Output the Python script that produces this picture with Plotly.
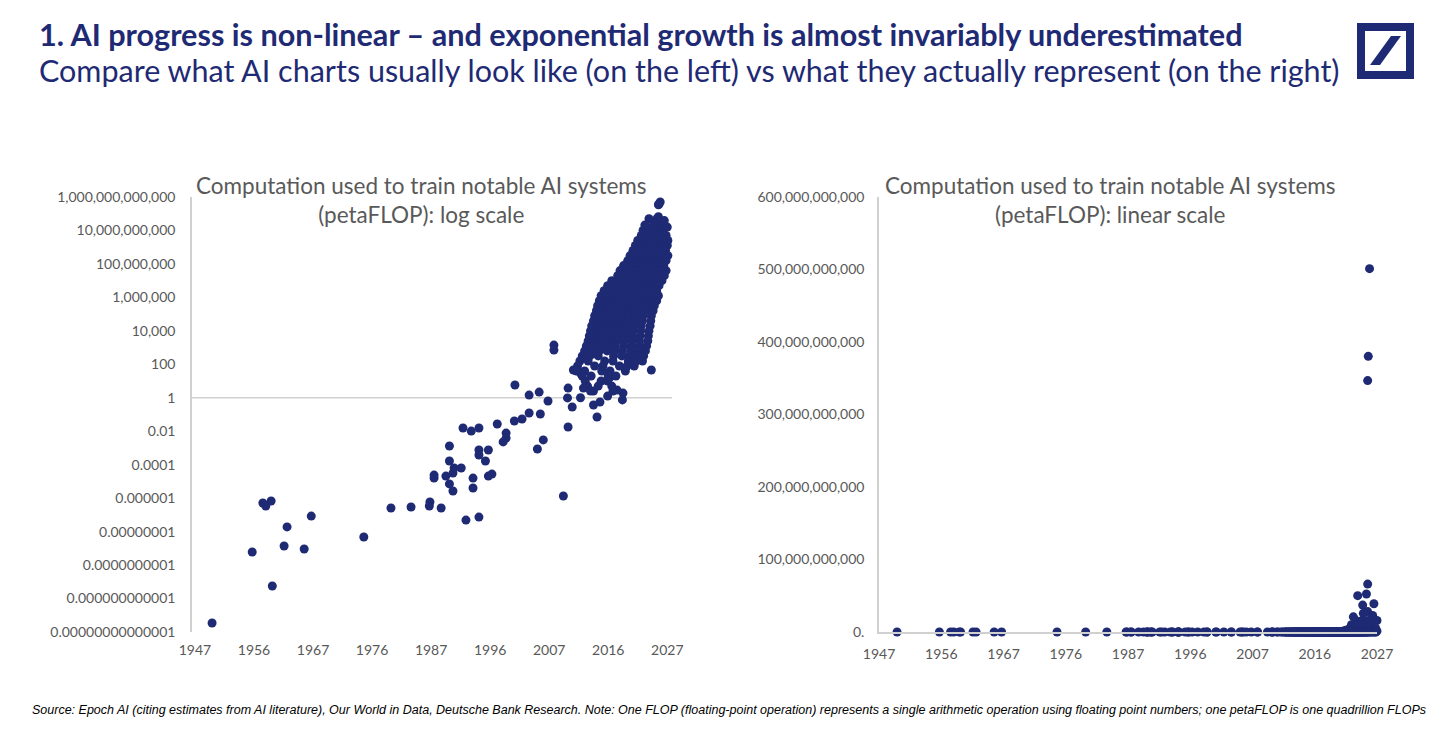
import numpy as np
import plotly.graph_objects as go

# ---------------- data ----------------
# Early / pre-deep-learning systems: year, log10(petaFLOP)
early_years = [1949.9, 1956.7, 1958.5, 1959.0, 1959.9, 1960.1, 1962.1, 1962.6, 1965.5, 1966.7,
               1975.6, 1980.2, 1983.6, 1986.7, 1986.8, 1988.7, 1992.9, 1995.1, 1987.5, 1987.5,
               1990.1, 1990.1, 1990.1, 1990.7, 1989.5, 1990.7, 1990.9, 1992.1, 1992.4, 1993.8,
               1995.1, 1994.1, 1994.1, 1995.1, 1995.1, 1996.7, 1996.2, 1996.7, 1997.3, 1998.2,
               1999.7, 1999.7, 1999.2, 2001.2, 2003.6, 2005.3, 2006.8, 2001.1, 2002.4, 2003.6,
               2005.5, 2005.0, 2006.0, 2007.8, 2007.8, 2010.2, 2009.4, 2015.1, 2010.2, 2010.1,
               2010.9, 2012.3, 2014.5, 2015.6, 2014.5, 2012.8, 2011.1, 2012.3, 2013.6, 2013.4,
               2019.4, 2019.5, 2018.5, 2017.3, 2024.3]
early_exp = [-13.46, -9.22, -6.29, -6.47, -6.17, -11.25, -8.86, -7.72, -9.04, -7.07,
             -8.32, -6.59, -6.53, -6.47, -6.23, -6.59, -7.31, -7.13, -4.62, -4.80,
             -2.88, -3.78, -5.15, -5.57, -4.68, -4.50, -4.20, -4.20, -1.81, -1.99,
             -1.81, -4.80, -5.39, -3.12, -3.42, -3.12, -3.78, -4.68, -4.56, -1.57,
             -2.11, -2.41, -2.64, 0.76, 0.16, 0.34, -0.19, -1.39, -1.27, -0.91,
             -0.97, -3.06, -2.52, 3.15, 2.85, -1.75, -5.87, -1.15, 0.58, -0.01,
             -0.55, 0.0, -0.43, -0.25, 0.40, 0.58, 1.66, 1.48, 3.27, 2.44,
             -0.13, 0.28, 0.46, 1.24, 1.66]

# Largest frontier systems (visible above the baseline on the linear chart)
frontier_years = [2025.8, 2025.6, 2025.5, 2025.5, 2023.9, 2025.3, 2024.7, 2026.5, 2025.5, 2023.2, 2026.3, 2024.8]
frontier_exp = [11.70, 11.58, 11.54, 10.82, 10.70, 10.72, 10.57, 10.59, 10.45, 10.32, 10.36, 10.41]

# Deep-learning era cluster, read band by band: log10(petaFLOP) of band, years of dots in band
cluster_band_exp = [10.2, 10.0, 9.7, 9.4, 9.1, 8.8, 8.5, 8.2, 7.9, 7.6, 7.3, 7.0, 6.7, 6.4, 6.1,
                    5.8, 5.5, 5.2, 4.9, 4.6, 4.3, 4.0, 3.7, 3.4, 3.1, 2.8, 2.5, 2.2, 1.9, 1.6,
                    1.3, 1.0, 0.7, 0.4, 0.1]
cluster_band_years = [
    [2023.6, 2024.6, 2025.6, 2026.6, 2027.0],
    [2022.9, 2024.0, 2025.1, 2026.2],
    [2022.6, 2023.5, 2024.5, 2025.6, 2026.8],
    [2022.0, 2023.1, 2024.2, 2025.3, 2026.4, 2027.1],
    [2021.6, 2022.7, 2023.8, 2024.9, 2026.0, 2027.0],
    [2021.2, 2022.3, 2023.4, 2024.5, 2025.6, 2026.7],
    [2020.7, 2021.8, 2022.9, 2024.0, 2025.1, 2026.2, 2027.1],
    [2020.3, 2021.4, 2022.5, 2023.6, 2024.7, 2025.8, 2026.8],
    [2019.6, 2020.9, 2022.0, 2023.1, 2024.2, 2025.3, 2026.4],
    [2019.0, 2020.4, 2021.5, 2022.6, 2023.7, 2024.8, 2025.9, 2026.8],
    [2018.6, 2019.8, 2020.9, 2022.1, 2023.2, 2024.3, 2025.4, 2026.5],
    [2017.6, 2018.9, 2020.2, 2021.4, 2022.6, 2023.8, 2025.0, 2026.1],
    [2016.9, 2018.1, 2019.5, 2020.8, 2022.0, 2023.2, 2024.4, 2025.6],
    [2016.3, 2017.5, 2018.8, 2020.0, 2021.3, 2022.6, 2023.9, 2025.2],
    [2015.8, 2017.0, 2018.2, 2019.5, 2020.8, 2022.0, 2023.3, 2024.6, 2025.5],
    [2015.5, 2016.6, 2017.8, 2019.0, 2020.2, 2021.5, 2022.7, 2024.0, 2025.2],
    [2015.2, 2016.3, 2017.5, 2018.7, 2019.9, 2021.1, 2022.3, 2023.6, 2024.8],
    [2015.0, 2016.0, 2017.2, 2018.4, 2019.6, 2020.8, 2022.0, 2023.2, 2024.6],
    [2014.7, 2015.8, 2017.0, 2018.1, 2019.3, 2020.5, 2021.7, 2022.9, 2024.3],
    [2014.5, 2015.6, 2016.8, 2018.0, 2019.2, 2020.3, 2021.5, 2022.8, 2024.2],
    [2014.2, 2015.4, 2016.5, 2017.7, 2018.9, 2020.1, 2021.3, 2022.6, 2024.1],
    [2014.0, 2015.2, 2016.4, 2017.5, 2018.8, 2020.0, 2021.2, 2022.5, 2023.9],
    [2013.8, 2014.9, 2016.1, 2017.4, 2018.6, 2019.9, 2021.1, 2022.4, 2023.8],
    [2013.6, 2014.7, 2015.9, 2017.2, 2018.4, 2019.7, 2021.0, 2022.3, 2023.7],
    [2013.3, 2014.4, 2015.7, 2017.0, 2018.2, 2019.6, 2020.9, 2022.2, 2023.5],
    [2013.0, 2014.2, 2015.5, 2016.8, 2018.1, 2019.4, 2020.8, 2022.1, 2023.3],
    [2012.6, 2013.9, 2015.3, 2017.9, 2019.3, 2020.6, 2021.9, 2023.0],
    [2012.2, 2013.6, 2016.4, 2017.8, 2020.4, 2021.7, 2022.8],
    [2011.8, 2014.7, 2016.1, 2018.9, 2020.2, 2021.4],
    [2011.6, 2013.0, 2015.9, 2017.3, 2019.9],
    [2012.6, 2014.1, 2017.0, 2018.3],
    [2013.1, 2015.8, 2016.9],
    [2013.5, 2015.3, 2017.6],
    [2014.0, 2017.8],
    [2016.9],
]

# Axis tick labels
x_tick_years = [1947, 1957, 1967, 1977, 1987, 1997, 2007, 2017, 2027]
x_tick_labels = ["1947", "1956", "1967", "1976", "1987", "1996", "2007", "2016", "2027"]
log_tick_exp = [-14, -12, -10, -8, -6, -4, -2, 0, 2, 4, 6, 8, 10, 12]
log_tick_labels = ["0.00000000000001", "0.000000000001", "0.0000000001", "0.00000001",
                   "0.000001", "0.0001", "0.01", "1", "100", "10,000", "1,000,000",
                   "100,000,000", "10,000,000,000", "1,000,000,000,000"]
lin_tick_vals = [0, 100e9, 200e9, 300e9, 400e9, 500e9, 600e9]
lin_tick_labels = ["0.", "100,000,000,000", "200,000,000,000", "300,000,000,000",
                   "400,000,000,000", "500,000,000,000", "600,000,000,000"]

# ---------------- assemble ----------------
cl_years, cl_exp = [], []
for e, ys in zip(cluster_band_exp, cluster_band_years):
    for y in ys:
        cl_years.append(y)
        cl_exp.append(e)

years = np.array(early_years + cl_years + frontier_years)
petaflop = np.power(10.0, np.array(early_exp + cl_exp + frontier_exp))

NAVY = "#1f2a74"
GRAY = "#595959"
AXC = "#d0d0d0"
FONT = "Lato"

fig = go.Figure()
marker = dict(color=NAVY, size=9, line=dict(width=0))
fig.add_trace(go.Scatter(x=years, y=petaflop, mode="markers", marker=marker,
                         xaxis="x", yaxis="y", cliponaxis=False, showlegend=False))
fig.add_trace(go.Scatter(x=years, y=petaflop, mode="markers", marker=marker,
                         xaxis="x2", yaxis="y2", cliponaxis=False, showlegend=False))

# The page body has an 8px margin; figure is sized to fit the window exactly.
OFF = 8
W, H = 1440 - OFF, 731 - OFF
def px(x):
    return (x - OFF) / W
def py(y):
    return 1 - (y - OFF) / H

tickfont = dict(family=FONT, size=14, color=GRAY)

fig.update_layout(
    width=W, height=H,
    margin=dict(l=0, r=0, t=0, b=0),
    paper_bgcolor="white", plot_bgcolor="white",
    xaxis=dict(domain=[px(192), px(672)], range=[1946.5, 2027.8], showgrid=False, zeroline=False,
               showline=False, tickvals=x_tick_years, ticktext=x_tick_labels, tickfont=tickfont,
               ticks="", ticklabelstandoff=8, automargin=False, anchor="y"),
    yaxis=dict(domain=[py(632), py(197)], type="log", range=[-14, 12], showgrid=False,
               zeroline=False, showline=True, linecolor=AXC, linewidth=1.5,
               tickvals=[10.0 ** e for e in log_tick_exp], ticktext=log_tick_labels,
               tickfont=tickfont, ticks="", ticklabelstandoff=12, automargin=False, anchor="x"),
    xaxis2=dict(domain=[px(879), px(1377)], range=[1947, 2027], showgrid=False, zeroline=False,
                showline=True, linecolor=AXC, linewidth=1.5, tickvals=x_tick_years,
                ticktext=x_tick_labels, tickfont=tickfont, ticks="", ticklabelstandoff=8,
                automargin=False, anchor="y2"),
    yaxis2=dict(domain=[py(632), py(197)], range=[0, 600e9], showgrid=False, zeroline=False,
                showline=True, linecolor=AXC, linewidth=1.5, tickvals=lin_tick_vals,
                ticktext=lin_tick_labels, tickfont=tickfont, ticks="", ticklabelstandoff=10,
                automargin=False, anchor="x2"),
)

# horizontal axis crossing line at y = 1 on the log chart
fig.add_shape(type="line", xref="x domain", yref="y", x0=0, x1=1, y0=1, y1=1,
              line=dict(color=AXC, width=1.5), layer="below")

# Deutsche Bank logo
fig.add_shape(type="rect", xref="paper", yref="paper",
              x0=px(1361), x1=px(1410), y0=py(75), y1=py(27),
              line=dict(color=NAVY, width=8), fillcolor="white")
fig.add_shape(type="path", xref="paper", yref="paper",
              path=f"M {px(1370)},{py(65)} L {px(1380)},{py(65)} L {px(1401)},{py(36)} L {px(1391)},{py(36)} Z",
              fillcolor=NAVY, line=dict(width=0))

def note(text, x, y, xanchor, size, color, family=FONT):
    return dict(text=text, x=px(x), y=py(y), xref="paper", yref="paper",
                xanchor=xanchor, yanchor="middle", showarrow=False, align="center",
                font=dict(family=family, size=size, color=color))

ann = [
    note("<b>1. AI progress is non-linear – and exponential growth is almost invariably underestimated</b>",
         37, 35, "left", 30.6, NAVY),
    note("Compare what AI charts usually look like (on the left) vs what they actually represent (on the right)",
         37, 70, "left", 30.5, NAVY),
    note("Computation used to train notable AI systems<br>(petaFLOP): log scale", 421, 200, "center", 22.5, GRAY),
    note("Computation used to train notable AI systems<br>(petaFLOP): linear scale", 1110, 200, "center", 22.5, GRAY),
    note("<i>Source: Epoch AI (citing estimates from AI literature), Our World in Data, Deutsche Bank Research. "
         "Note: One FLOP (floating-point operation) represents a single arithmetic operation using floating point "
         "numbers; one petaFLOP is one quadrillion FLOPs</i>", 30, 710, "left", 12.5, "#000000", "Liberation Sans"),
]
fig.update_layout(annotations=ann)

fig.write_html("out.html")
